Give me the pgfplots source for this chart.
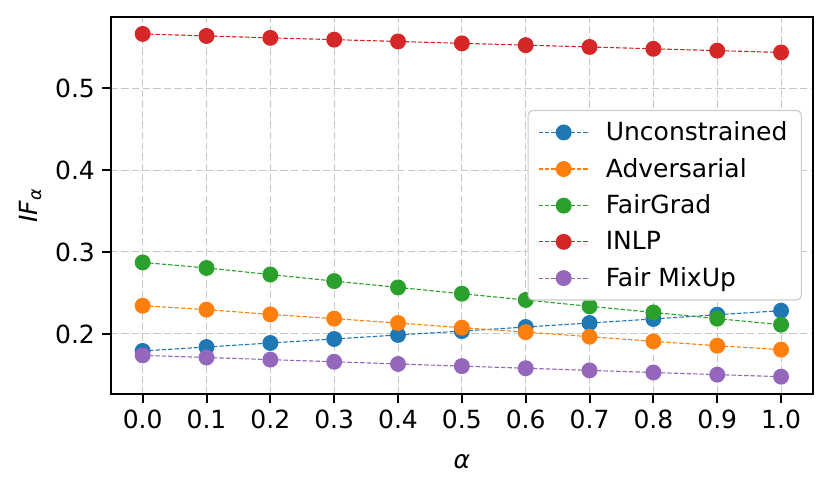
\documentclass[border=0pt]{standalone}
\usepackage{fontspec}
\setmainfont{DejaVu Sans}
\usepackage{pgfplots}
\pgfplotsset{compat=1.18}
\definecolor{c0}{HTML}{1F77B4}
\definecolor{c1}{HTML}{FF7F0E}
\definecolor{c2}{HTML}{2CA02C}
\definecolor{c3}{HTML}{D62728}
\definecolor{c4}{HTML}{9467BD}
\begin{document}
\begin{tikzpicture}
\begin{axis}[
  scale only axis, width=351pt, height=188.5pt,
  xmin=-0.05, xmax=1.05, ymin=0.127, ymax=0.587,
  xtick={0,0.1,0.2,0.3,0.4,0.5,0.6,0.7,0.8,0.9,1.0},
  ytick={0.2,0.3,0.4,0.5},
  /pgf/number format/assume math mode=true,
  xticklabel style={/pgf/number format/.cd, fixed, fixed zerofill, precision=1},
  yticklabel style={/pgf/number format/.cd, fixed, fixed zerofill, precision=1},
  tick align=outside, tick pos=left,
  major tick length=4.4pt,
  grid=major,
  major grid style={dash pattern=on 3.7pt off 1.6pt, black!22, line width=0.5pt},
  axis line style={line width=1pt},
  tick style={line width=1pt, black},
  tick label style={font=\fontsize{12.5}{15}\selectfont},
  label style={font=\fontsize{12.5}{15}\selectfont},
  xlabel={\textit{α}},
  xlabel style={yshift=-6pt},
  ylabel={\textit{IF}\textsubscript{\textit{α}}},
  legend style={at={(1,0.5)}, xshift=-5.5pt, anchor=east, draw=black!20, rounded corners=2.5pt,
    fill=white, font=\fontsize{12.5}{15}\selectfont,
    row sep=3.3pt, inner xsep=5pt, inner ysep=3.5pt, line width=0.6pt},
  legend cell align=left,
  legend image code/.code={\draw[mark repeat=2,mark phase=2] plot coordinates {(0cm,0cm) (0.44cm,0cm) (0.88cm,0cm)};
    \path (0cm,0cm) (1.1cm,0cm);},
  every axis plot/.append style={line width=0.55pt, dash pattern=on 2.2pt off 1pt, mark=*, mark size=3.7pt, mark options={solid}},
]
\addplot[c0] coordinates {(0,0.1793)(0.1,0.1841)(0.2,0.189)(0.3,0.1939)(0.4,0.1988)(0.5,0.2035)(0.6,0.2085)(0.7,0.2134)(0.8,0.2183)(0.9,0.2235)(1.0,0.2284)};
\addlegendentry{Unconstrained}
\addplot[c1] coordinates {(0,0.2345)(0.1,0.2297)(0.2,0.2239)(0.3,0.2187)(0.4,0.2134)(0.5,0.2077)(0.6,0.2022)(0.7,0.1967)(0.8,0.1910)(0.9,0.1857)(1.0,0.1809)};
\addlegendentry{Adversarial}
\addplot[c2] coordinates {(0,0.2873)(0.1,0.2805)(0.2,0.2725)(0.3,0.2645)(0.4,0.2568)(0.5,0.2491)(0.6,0.2415)(0.7,0.2337)(0.8,0.2263)(0.9,0.2187)(1.0,0.2113)};
\addlegendentry{FairGrad}
\addplot[c3] coordinates {(0,0.566)(0.1,0.5635)(0.2,0.5612)(0.3,0.559)(0.4,0.5568)(0.5,0.5545)(0.6,0.5523)(0.7,0.5501)(0.8,0.5478)(0.9,0.5456)(1.0,0.5434)};
\addlegendentry{INLP}
\addplot[c4] coordinates {(0,0.1739)(0.1,0.1713)(0.2,0.1687)(0.3,0.1661)(0.4,0.1634)(0.5,0.1608)(0.6,0.1582)(0.7,0.1556)(0.8,0.1530)(0.9,0.1504)(1.0,0.1479)};
\addlegendentry{Fair MixUp}
\end{axis}
\pgfresetboundingbox
\path ([shift={(-55.35pt,-47.5pt)}]current axis.south west) rectangle ([shift={(9pt,8.35pt)}]current axis.north east);
\end{tikzpicture}
\end{document}
